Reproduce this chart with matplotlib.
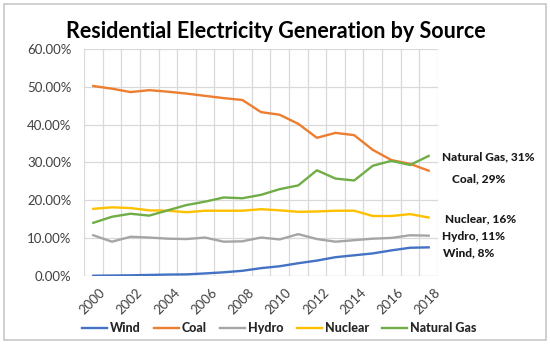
import numpy as np
import matplotlib
matplotlib.use("Agg")
import matplotlib.pyplot as plt
from matplotlib.patches import Rectangle
from matplotlib.transforms import ScaledTranslation

years = list(range(2000, 2019))
wind = [0.0, 0.05, 0.1, 0.2, 0.3, 0.35, 0.6, 0.9, 1.3, 2.0, 2.5, 3.3, 4.0, 4.9, 5.4, 5.9, 6.7, 7.4, 7.5]
coal = [50.2, 49.5, 48.6, 49.1, 48.7, 48.2, 47.6, 47.0, 46.5, 43.3, 42.6, 40.2, 36.5, 37.8, 37.2, 33.3, 30.6, 29.6, 27.8]
hydro = [10.7, 9.0, 10.3, 10.1, 9.8, 9.7, 10.1, 9.0, 9.1, 10.1, 9.6, 11.0, 9.7, 9.0, 9.4, 9.8, 10.0, 10.7, 10.6]
nuclear = [17.7, 18.1, 17.9, 17.3, 17.2, 16.8, 17.2, 17.2, 17.2, 17.6, 17.3, 16.9, 17.0, 17.2, 17.2, 15.8, 15.8, 16.3, 15.4]
gas = [14.0, 15.6, 16.4, 15.9, 17.3, 18.7, 19.6, 20.7, 20.5, 21.4, 22.9, 23.9, 27.9, 25.7, 25.2, 29.1, 30.4, 29.3, 31.7]

series = ["Wind", "Coal", "Hydro", "Nuclear", "Natural Gas"]
colors = ["#4472C4", "#ED7D31", "#A5A5A5", "#FFC000", "#70AD47"]
end_labels = ["Wind, 8%", "Coal, 29%", "Hydro, 11%", "Nuclear, 16%", "Natural Gas, 31%"]

plt.rcParams['font.family'] = ['Lato', 'DejaVu Sans']

fig = plt.figure(figsize=(5.5, 3.44), dpi=100)
fig.patches.append(Rectangle((4 / 550, 4 / 344), 542 / 550, 336 / 344, transform=fig.transFigure,
                             fill=False, edgecolor="#C8C8C8", linewidth=1.2))
ax = fig.add_axes([84 / 550, 1 - 275.7 / 344, 354 / 550, 226.7 / 344])

x = np.arange(len(years))
for vals, name, c in zip([wind, coal, hydro, nuclear, gas], series, colors):
    ax.plot(x, np.array(vals) / 100, color=c, linewidth=1.7, label=name, zorder=3)

ax.set_xlim(-0.5, len(years) - 0.5)
ax.set_ylim(0, 0.6)
ax.set_yticks(np.arange(0, 0.61, 0.1))
ax.set_yticklabels(["%.2f%%" % (v * 100) for v in np.arange(0, 0.61, 0.1)], fontsize=9.5, color="#404040")
ax.set_xticks(x[::2])
ax.set_xticklabels([str(y) for y in years[::2]], rotation=45, fontsize=9.5, color="#404040",
                   ha="right", va="center", rotation_mode="anchor")
ax.set_xticks(np.arange(-0.5, len(years), 1), minor=True)
ax.tick_params(axis="both", which="both", length=0)
ax.tick_params(axis="y", pad=9)
ax.tick_params(axis="x", pad=8)
shift = ScaledTranslation(10 / 100, -4 / 100, fig.dpi_scale_trans)
for t in ax.get_xticklabels():
    t.set_transform(t.get_transform() + shift)
ax.grid(axis="y", color="#D9D9D9", linewidth=0.9)
ax.grid(axis="x", which="minor", color="#D9D9D9", linewidth=0.9)
for s in ax.spines.values():
    s.set_visible(False)
ax.axhline(0, color="#D9D9D9", linewidth=0.9, zorder=2)

# labels at right edge
label_y = {"Natural Gas, 31%": 157, "Coal, 29%": 179, "Nuclear, 16%": 219, "Hydro, 11%": 237, "Wind, 8%": 253}
label_x = {"Natural Gas, 31%": 442, "Coal, 29%": 452, "Nuclear, 16%": 445, "Hydro, 11%": 442, "Wind, 8%": 443}
for lab in end_labels:
    fig.text(label_x[lab] / 550, 1 - label_y[lab] / 344, lab, fontsize=8.6, fontweight="black",
             ha="left", va="center", color="#1a1a1a")

fig.text(276 / 550, 1 - 31 / 344, "Residential Electricity Generation by Source", fontsize=15.5,
         fontweight="bold", ha="center", va="center", color="black")

leg = fig.legend(loc="center", bbox_to_anchor=(279 / 550, 1 - 328 / 344), ncol=5, frameon=False,
                 handlelength=2.0, handletextpad=0.25, columnspacing=1.05,
                 prop={"weight": "black", "size": 9})
for t in leg.get_texts():
    t.set_color("#262626")

fig.savefig("out.png", dpi=100)
